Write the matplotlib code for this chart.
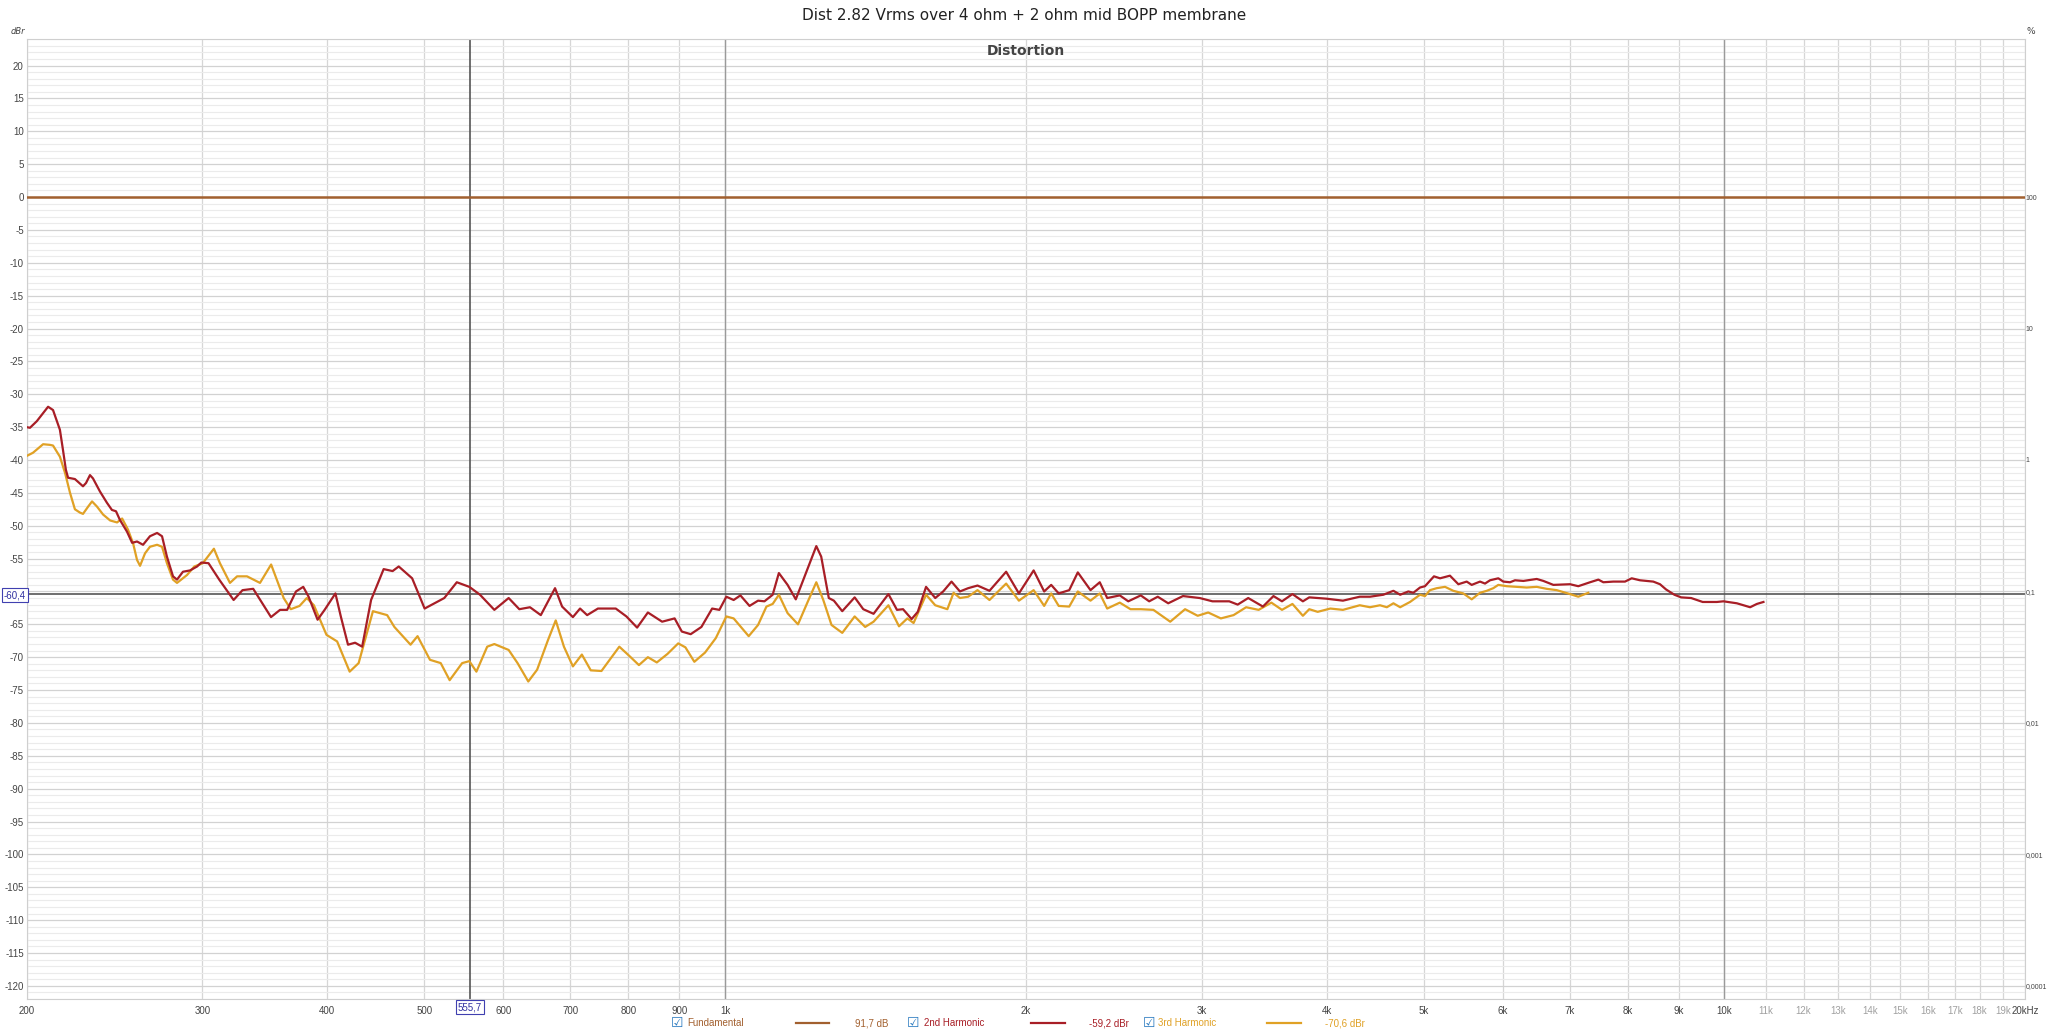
import matplotlib.pyplot as plt
from matplotlib.lines import Line2D
from matplotlib.ticker import NullLocator

plt.rcParams['font.family'] = ['DejaVu Sans']
plt.rcParams['axes.unicode_minus'] = False

# --- data (Hz, dB) ---
fund_freq = [200, 20000]
fund_db = [0.0, 0.0]

h2_freq = [200, 201.6, 204.8, 210.2, 212.6, 216.0, 217.5, 219.0, 220.1, 223.6,
           227.8, 229.4, 231.5, 233.1, 236.9, 240.7, 243.5, 245.8, 248.0, 252.1,
           255.1, 258.0, 261.6, 265.8, 270.2, 273.3, 276.4, 280.3, 282.9, 286.8,
           291.5, 296.3, 299.2, 304.2, 311.8, 322.3, 329.0, 337.2, 351.3, 358.7,
           364.6, 372.1, 378.4, 383.1, 391.1, 397.5, 407.5, 412.6, 419.5, 426.4,
           433.4, 442.4, 455.4, 464.9, 471.5, 486.3, 500.5, 523.7, 539.0, 554.8,
           568.6, 587.7, 607.4, 622.5, 638.0, 654.1, 675.9, 687.0, 704.3, 716.0,
           727.8, 746.1, 777.4, 796.7, 816.6, 837.1, 865.0, 890.3, 905.2, 923.9,
           947.0, 970.7, 987.0, 1003, 1020, 1036, 1058, 1079, 1095, 1116,
           1132, 1155, 1177, 1212, 1234, 1248, 1270, 1285, 1310, 1348,
           1375, 1408, 1457, 1486, 1507, 1537, 1559, 1589, 1623, 1653,
           1685, 1718, 1751, 1789, 1839, 1911, 1968, 2036, 2086, 2120,
           2157, 2210, 2254, 2321, 2371, 2412, 2483, 2532, 2606, 2657,
           2710, 2776, 2872, 2985, 3074, 3195, 3258, 3338, 3453, 3538,
           3608, 3696, 3786, 3842, 3998, 4152, 4316, 4419, 4557, 4664,
           4737, 4827, 4883, 4959, 5016, 5121, 5193, 5313, 5417, 5522,
           5586, 5694, 5760, 5827, 5939, 6008, 6102, 6172, 6292, 6489,
           6589, 6742, 7006, 7141, 7337, 7479, 7565, 7741, 7952, 8076,
           8232, 8488, 8620, 8742, 8911, 9050, 9261, 9511, 9826, 9977,
           10290, 10610, 10775, 10940]
h2_db = [-35.0, -35.1, -34.1, -31.9, -32.4, -35.4, -38.4, -41.5, -42.7, -42.9,
         -44.0, -43.5, -42.3, -42.8, -44.8, -46.5, -47.6, -47.8, -49.1, -50.9,
         -52.6, -52.4, -52.9, -51.6, -51.1, -51.6, -54.7, -57.7, -58.2, -57.0,
         -56.8, -56.2, -55.6, -55.7, -58.2, -61.3, -59.8, -59.6, -63.9, -62.8,
         -62.8, -60.0, -59.3, -60.8, -64.3, -62.8, -60.3, -63.8, -68.1, -67.8,
         -68.4, -61.3, -56.6, -56.9, -56.2, -58.0, -62.6, -61.0, -58.6, -59.3,
         -60.5, -62.8, -61.0, -62.7, -62.4, -63.6, -59.5, -62.3, -63.9, -62.6,
         -63.6, -62.6, -62.6, -63.8, -65.5, -63.2, -64.6, -64.1, -66.1, -66.5,
         -65.4, -62.6, -62.8, -60.8, -61.3, -60.6, -62.2, -61.4, -61.5, -60.5,
         -57.2, -59.0, -61.2, -56.2, -53.1, -54.7, -61.0, -61.4, -63.0, -60.9,
         -62.7, -63.4, -60.4, -62.8, -62.7, -64.2, -63.1, -59.3, -61.0, -60.0,
         -58.5, -60.0, -59.5, -59.1, -59.9, -57.0, -60.3, -56.8, -60.0, -59.0,
         -60.3, -59.8, -57.1, -59.8, -58.6, -61.0, -60.6, -61.5, -60.6, -61.5,
         -60.8, -61.8, -60.7, -61.0, -61.5, -61.5, -62.0, -61.0, -62.3, -60.7,
         -61.5, -60.4, -61.5, -60.9, -61.1, -61.4, -60.8, -60.8, -60.5, -59.9,
         -60.5, -60.0, -60.2, -59.4, -59.2, -57.7, -58.0, -57.6, -58.9, -58.5,
         -59.0, -58.5, -58.8, -58.3, -58.0, -58.5, -58.6, -58.3, -58.4, -58.1,
         -58.4, -59.0, -58.9, -59.2, -58.6, -58.2, -58.6, -58.5, -58.5, -58.0,
         -58.3, -58.5, -58.9, -59.7, -60.5, -60.9, -61.0, -61.6, -61.6, -61.5,
         -61.8, -62.4, -61.9, -61.6]

h3_freq = [200, 203.0, 206.3, 207.8, 211.1, 212.6, 216.0, 218.6, 221.1, 223.6,
           226.2, 227.8, 230.5, 232.6, 235.3, 238.6, 242.5, 246.4, 249.3, 252.7,
           255.7, 258.0, 259.8, 262.8, 265.8, 270.2, 273.3, 276.4, 280.3, 282.9,
           289.5, 294.4, 300.2, 308.0, 312.3, 319.6, 324.9, 332.4, 342.5, 351.4,
           361.7, 367.7, 375.2, 381.5, 387.8, 399.2, 409.1, 421.1, 429.9, 444.3,
           459.1, 466.8, 484.5, 492.4, 506.7, 519.4, 530.2, 545.7, 554.8, 563.9,
           578.1, 587.7, 607.4, 620.0, 635.5, 648.6, 665.0, 677.0, 689.9, 704.3,
           719.0, 733.9, 752.2, 783.8, 803.3, 820.0, 837.1, 854.5, 875.8, 897.7,
           912.7, 931.7, 954.9, 978.9, 1003, 1020, 1056, 1079, 1100, 1116,
           1132, 1155, 1183, 1212, 1234, 1254, 1278, 1310, 1348, 1381,
           1408, 1457, 1493, 1522, 1544, 1589, 1623, 1669, 1693, 1718,
           1751, 1789, 1839, 1911, 1968, 2036, 2086, 2120, 2157, 2210,
           2254, 2321, 2371, 2412, 2483, 2545, 2606, 2683, 2789, 2886,
           2971, 3044, 3134, 3227, 3322, 3419, 3521, 3608, 3696, 3786,
           3842, 3917, 4033, 4152, 4316, 4419, 4522, 4594, 4664, 4737,
           4846, 4959, 5016, 5074, 5154, 5253, 5354, 5479, 5586, 5694,
           5783, 5871, 5939, 6056, 6197, 6341, 6489, 6640, 6795, 7006,
           7141, 7308]
h3_db = [-39.4, -38.9, -38.0, -37.6, -37.7, -37.8, -39.5, -42.0, -45.0, -47.5,
         -48.0, -48.2, -47.1, -46.3, -47.1, -48.3, -49.2, -49.5, -48.9, -50.6,
         -52.7, -55.2, -56.1, -54.2, -53.2, -52.9, -53.2, -55.7, -58.2, -58.7,
         -57.5, -56.2, -55.7, -53.5, -55.7, -58.7, -57.7, -57.7, -58.7, -55.9,
         -61.0, -62.7, -62.2, -61.0, -62.1, -66.6, -67.6, -72.2, -70.9, -63.0,
         -63.6, -65.4, -68.1, -66.8, -70.4, -70.9, -73.5, -70.9, -70.6, -72.2,
         -68.4, -68.0, -68.9, -70.9, -73.7, -71.9, -67.4, -64.4, -68.4, -71.4,
         -69.6, -72.0, -72.1, -68.4, -69.9, -71.2, -70.0, -70.8, -69.5, -67.9,
         -68.5, -70.7, -69.3, -67.1, -63.8, -64.1, -66.8, -65.1, -62.3, -61.9,
         -60.5, -63.3, -65.0, -61.3, -58.6, -61.3, -65.1, -66.3, -63.8, -65.4,
         -64.6, -62.1, -65.3, -64.1, -64.8, -60.5, -62.1, -62.7, -60.2, -61.0,
         -60.8, -59.8, -61.3, -58.8, -61.4, -59.8, -62.2, -60.3, -62.2, -62.3,
         -60.0, -61.4, -60.3, -62.6, -61.7, -62.7, -62.7, -62.8, -64.6, -62.7,
         -63.7, -63.2, -64.1, -63.6, -62.4, -62.8, -61.7, -62.8, -61.9, -63.7,
         -62.7, -63.1, -62.6, -62.8, -62.1, -62.4, -62.1, -62.4, -61.8, -62.4,
         -61.6, -60.5, -60.7, -59.8, -59.5, -59.3, -59.9, -60.3, -61.2, -60.2,
         -59.9, -59.5, -59.0, -59.2, -59.3, -59.4, -59.3, -59.6, -59.8, -60.4,
         -60.8, -60.2]

x_ticks = [200, 300, 400, 500, 600, 700, 800, 900, 1000, 2000, 3000, 4000, 5000,
           6000, 7000, 8000, 9000, 10000, 11000, 12000, 13000, 14000, 15000,
           16000, 17000, 18000, 19000, 20000]
x_labels = ['200', '300', '400', '500', '600', '700', '800', '900', '1k', '2k',
            '3k', '4k', '5k', '6k', '7k', '8k', '9k', '10k', '11k', '12k', '13k',
            '14k', '15k', '16k', '17k', '18k', '19k', '20kHz']
y_ticks = list(range(-120, 21, 5))
pct_ticks = [0, -20, -40, -60, -80, -100, -120]
pct_labels = ['100', '10', '1', '0,1', '0,01', '0,001', '0,0001']

cursor_freq = 555.7
cursor_level = -60.4

legend_names = ['Fundamental', '2nd Harmonic', '3rd Harmonic']
legend_values = ['91,7 dB', '-59,2 dBr', '-70,6 dBr']
c_fund = '#a2602f'
c_h2 = '#a81e26'
c_h3 = '#e0a125'
series_colors = [c_fund, c_h2, c_h3]

narrow = ['Liberation Sans', 'DejaVu Sans']

W, H = 2048, 1030
fig = plt.figure(figsize=(W / 100, H / 100), dpi=100)
ax = fig.add_axes([26.5 / W, 1 - 999 / H, (2025.3 - 26.5) / W, (999 - 39.3) / H])

ax.set_xscale('log')
ax.set_xlim(200, 20000)
ax.set_ylim(-122, 24)

ax.set_xticks(x_ticks)
ax.set_xticklabels(x_labels)
ax.xaxis.set_minor_locator(NullLocator())
ax.set_yticks(y_ticks)
# the cursor box takes the place of the -60 label
ax.set_yticklabels(['' if v == -60 else str(v) for v in y_ticks])
ax.set_yticks(range(-122, 25), minor=True)

ax.grid(which='major', axis='y', color='#d2d2d2', lw=0.9)
ax.grid(which='minor', axis='y', color='#ebebeb', lw=0.8)
ax.grid(which='major', axis='x', color='#d6d6d6', lw=0.9)
ax.set_axisbelow(True)

ax.tick_params(axis='both', which='both', length=0, labelsize=7, colors='#444444')
ax.tick_params(axis='x', pad=5)
ax.tick_params(axis='y', pad=2)
for lbl, f in zip(ax.get_xticklabels(), x_ticks):
    lbl.set_family(narrow)
    if 10000 < f < 20000:
        lbl.set_color('#a0a0a0')
for lbl in ax.get_yticklabels():
    lbl.set_family(narrow)

for sp in ax.spines.values():
    sp.set_color('#cfcfcf')
    sp.set_linewidth(0.8)

# darker decade lines and cursors
for f in (1000, 10000):
    ax.axvline(f, color='#9a9a9a', lw=1.0, zorder=1)
ax.axvline(cursor_freq, color='#555555', lw=1.2, zorder=2)
ax.axhline(cursor_level, color='#555555', lw=1.2, zorder=2)

ax.plot(fund_freq, fund_db, color=c_fund, lw=1.8, zorder=3)
ax.plot(h3_freq, h3_db, color=c_h3, lw=1.6, zorder=3)
ax.plot(h2_freq, h2_db, color=c_h2, lw=1.6, zorder=4)

# right hand % scale
ax2 = ax.twinx()
ax2.set_ylim(ax.get_ylim())
ax2.set_yticks(pct_ticks)
ax2.set_yticklabels(pct_labels)
ax2.tick_params(axis='y', length=0, labelsize=5, labelcolor='#444444', pad=0.3)
for lbl in ax2.get_yticklabels():
    lbl.set_family(narrow)
for sp in ax2.spines.values():
    sp.set_visible(False)

# texts
fig.text(0.5, 1 - 16 / H, 'Dist 2.82 Vrms over 4 ohm + 2 ohm mid BOPP membrane',
         ha='center', va='center', fontsize=11, color='#222222')
fig.text(1026 / W, 1 - 51 / H, 'Distortion', ha='center', va='center',
         fontsize=10, fontweight='bold', color='#444444')
fig.text(18 / W, 1 - 32 / H, 'dBr', ha='center', va='center', fontsize=6,
         style='italic', color='#444444')
fig.text(2031 / W, 1 - 32 / H, '%', ha='center', va='center', fontsize=6.5,
         color='#444444')

box = dict(boxstyle='square,pad=0.2', fc='white', ec='#4040b0', lw=0.8)
fig.text(470 / W, 1 - 1007 / H, '555,7', ha='center', va='center', fontsize=7,
         color='#3030a0', bbox=box, family=narrow)
fig.text(15 / W, 1 - 595 / H, '-60,4', ha='center', va='center', fontsize=7,
         color='#3030a0', bbox=box, family=narrow)

# legend row at the bottom
ly = 1 - 1023 / H
box_x = [677, 913, 1149]
name_x = [687, 924, 1158]
line_x = [(796, 829), (1031, 1065), (1267, 1301)]
val_x = [855, 1089, 1325]
for i in range(3):
    fig.text(box_x[i] / W, ly, '\u2611', ha='center', va='center', fontsize=10,
             color='#2b7bc0')
    fig.text(name_x[i] / W, ly, legend_names[i], ha='left', va='center',
             fontsize=7, color=series_colors[i], family=narrow)
    fig.add_artist(Line2D([line_x[i][0] / W, line_x[i][1] / W], [ly, ly],
                          transform=fig.transFigure, color=series_colors[i], lw=1.6))
    fig.text(val_x[i] / W, ly, legend_values[i], ha='left', va='center',
             fontsize=7, color=series_colors[i], family=narrow)

fig.savefig('out.png', dpi=100, facecolor='white')
